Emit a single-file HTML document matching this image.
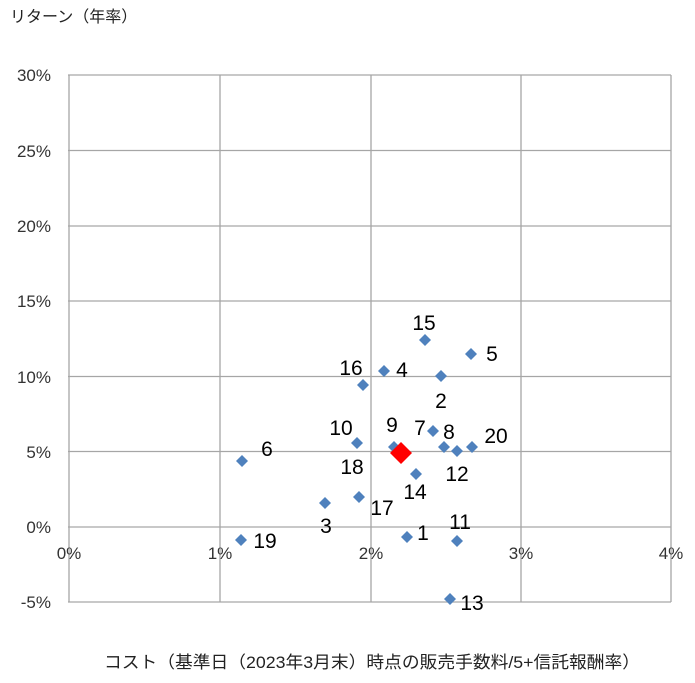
<!DOCTYPE html>
<html><head><meta charset="utf-8"><style>
body{margin:0;background:#fff;}
svg text{font-family:"Liberation Sans","Noto Sans CJK JP",sans-serif;}
</style></head><body>
<svg width="695" height="678" xmlns="http://www.w3.org/2000/svg">
<rect width="695" height="678" fill="#fff"/>
<g stroke="#a6a6a6" stroke-width="1.3" fill="none">
<line x1="68" y1="75" x2="671" y2="75"/>
<line x1="68" y1="150.5" x2="671" y2="150.5"/>
<line x1="68" y1="226" x2="671" y2="226"/>
<line x1="68" y1="301" x2="671" y2="301"/>
<line x1="68" y1="376.5" x2="671" y2="376.5"/>
<line x1="68" y1="451.5" x2="671" y2="451.5"/>
<line x1="68" y1="527" x2="671" y2="527"/>
<line x1="68" y1="602" x2="671" y2="602"/>
<line x1="69" y1="75" x2="69" y2="602"/>
<line x1="220" y1="75" x2="220" y2="602"/>
<line x1="371" y1="75" x2="371" y2="602"/>
<line x1="521" y1="75" x2="521" y2="602"/>
<line x1="671" y1="75" x2="671" y2="602"/>
</g>
<g font-size="17" fill="#333" text-anchor="end">
<text x="51" y="81">30%</text>
<text x="51" y="157">25%</text>
<text x="51" y="232">20%</text>
<text x="51" y="307">15%</text>
<text x="51" y="383">10%</text>
<text x="51" y="458">5%</text>
<text x="51" y="533">0%</text>
<text x="51" y="608">-5%</text>
</g>
<g font-size="17" fill="#333" text-anchor="middle">
<text x="69" y="559">0%</text>
<text x="220" y="559">1%</text>
<text x="371" y="559">2%</text>
<text x="521" y="559">3%</text>
<text x="671" y="559">4%</text>
</g>
<text x="10" y="22" font-size="16" fill="#222">リターン（年率）</text>
<text x="372" y="668" font-size="17" fill="#222" text-anchor="middle" textLength="536" lengthAdjust="spacingAndGlyphs">コスト（基準日（2023年3月末）時点の販売手数料/5+信託報酬率）</text>
<g fill="#4f81bd">
<path d="M407 531l6 6-6 6-6-6z"/>
<path d="M441 370l6 6-6 6-6-6z"/>
<path d="M325 497l6 6-6 6-6-6z"/>
<path d="M384 365l6 6-6 6-6-6z"/>
<path d="M471 348l6 6-6 6-6-6z"/>
<path d="M242 455l6 6-6 6-6-6z"/>
<path d="M433 425l6 6-6 6-6-6z"/>
<path d="M444 441l6 6-6 6-6-6z"/>
<path d="M394 441l6 6-6 6-6-6z"/>
<path d="M357 437l6 6-6 6-6-6z"/>
<path d="M457 535l6 6-6 6-6-6z"/>
<path d="M457 445l6 6-6 6-6-6z"/>
<path d="M450 593l6 6-6 6-6-6z"/>
<path d="M416 468l6 6-6 6-6-6z"/>
<path d="M425 334l6 6-6 6-6-6z"/>
<path d="M363 379l6 6-6 6-6-6z"/>
<path d="M359 491l6 6-6 6-6-6z"/>
<path d="M241 534l6 6-6 6-6-6z"/>
<path d="M472 441l6 6-6 6-6-6z"/>
</g>
<path d="M401 442l11 11-11 11-11-11z" fill="#ff0000"/>
<g font-size="21" fill="#000" text-anchor="middle">
<text x="423" y="540">1</text>
<text x="441" y="408">2</text>
<text x="326" y="533">3</text>
<text x="402" y="377">4</text>
<text x="492" y="361">5</text>
<text x="267" y="456">6</text>
<text x="420" y="435">7</text>
<text x="449" y="439">8</text>
<text x="392" y="432">9</text>
<text x="341" y="435">10</text>
<text x="460" y="529">11</text>
<text x="457" y="481">12</text>
<text x="472" y="610">13</text>
<text x="415" y="499">14</text>
<text x="424" y="330">15</text>
<text x="351" y="375">16</text>
<text x="382" y="515">17</text>
<text x="352" y="474">18</text>
<text x="265" y="548">19</text>
<text x="496" y="443">20</text>
</g>
</svg>
</body></html>
